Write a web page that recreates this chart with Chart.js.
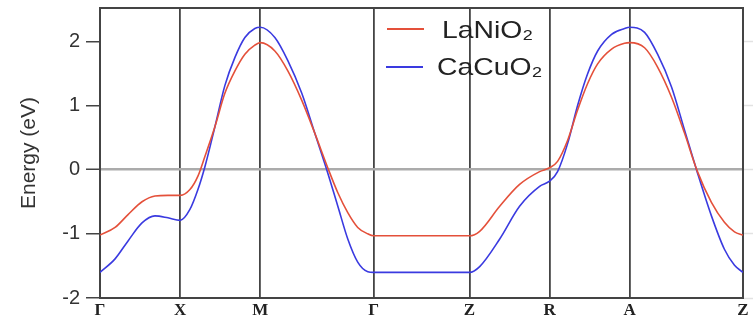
<!DOCTYPE html>
<html>
<head>
<meta charset="utf-8">
<script src="https://cdn.jsdelivr.net/npm/chart.js@4"></script>
<style>
html,body{margin:0;padding:0;background:#fff;}
#wrap{width:756px;height:322px;}
</style>
</head>
<body>
<div id="wrap"><canvas id="c" width="756" height="322"></canvas></div>
<script>
// High-symmetry path (k-distance) and labels
const kTicks = [0, 0.5, 1.0, 1.707, 2.305, 2.805, 3.305, 4.012];
const kLabels = ['Γ', 'X', 'M', 'Γ', 'Z', 'R', 'A', 'Z'];
const yTicks = [-2, -1, 0, 1, 2];

// Sampled k positions along the path
const kPos = [0, 0.094, 0.175, 0.262, 0.343, 0.424, 0.5, 0.561, 0.611, 0.655, 0.717, 0.779, 0.842, 0.904, 0.966, 1.0,
  1.091, 1.172, 1.259, 1.340, 1.421, 1.484, 1.546, 1.608, 1.671, 1.707, 2.0, 2.305, 2.369, 2.494, 2.618, 2.743, 2.805,
  2.855, 2.918, 2.980, 3.042, 3.105, 3.192, 3.273, 3.305, 3.398, 3.479, 3.566, 3.647, 3.728, 3.815, 3.896, 3.959, 4.012];

const laNiO2 = [-1.02, -0.90, -0.70, -0.50, -0.41, -0.40, -0.40, -0.31, -0.10, 0.21, 0.67, 1.19, 1.54, 1.80, 1.94, 1.98,
  1.85, 1.54, 1.08, 0.57, 0.03, -0.36, -0.67, -0.90, -1.00, -1.03, -1.03, -1.03, -0.96, -0.57, -0.23, -0.03, 0.03,
  0.13, 0.46, 0.93, 1.34, 1.65, 1.88, 1.97, 1.98, 1.90, 1.60, 1.13, 0.57, -0.03, -0.51, -0.82, -0.97, -1.02];

const caCuO2 = [-1.60, -1.39, -1.11, -0.83, -0.72, -0.75, -0.79, -0.62, -0.31, 0.05, 0.67, 1.31, 1.75, 2.06, 2.20, 2.22,
  2.06, 1.70, 1.19, 0.57, -0.05, -0.57, -1.08, -1.44, -1.59, -1.60, -1.60, -1.60, -1.51, -1.08, -0.57, -0.26, -0.18,
  -0.03, 0.41, 1.00, 1.49, 1.85, 2.11, 2.20, 2.22, 2.14, 1.80, 1.29, 0.62, -0.05, -0.72, -1.24, -1.49, -1.60];

const seriesNames = ['LaNiO₂', 'CaCuO₂'];

const toPts = arr => kPos.map((k, i) => ({x: k, y: arr[i]}));

const legendPlugin = {
  id: 'insideLegend',
  afterDraw(chart) {
    const ctx = chart.ctx;
    const rows = [{lx: 387, ly: 29, tx: 442, ty: 38}, {lx: 386, ly: 67, tx: 437, ty: 75}];
    ctx.save();
    chart.data.datasets.forEach((ds, i) => {
      const r = rows[i];
      ctx.strokeStyle = ds.borderColor;
      ctx.lineWidth = 2;
      ctx.beginPath();
      ctx.moveTo(r.lx, r.ly);
      ctx.lineTo(r.lx + 37, r.ly);
      ctx.stroke();
      ctx.save();
      ctx.translate(r.tx, r.ty);
      ctx.scale(1.18, 1);
      ctx.fillStyle = '#222';
      ctx.font = '24px "Liberation Sans", Arial, sans-serif';
      ctx.textBaseline = 'alphabetic';
      ctx.textAlign = 'left';
      ctx.fillText(ds.label, 0, 0);
      ctx.restore();
    });
    ctx.restore();
  }
};

const noPad = s => { s.paddingTop = 0; s.paddingBottom = 0; };

new Chart(document.getElementById('c'), {
  type: 'line',
  data: {
    datasets: [
      {label: seriesNames[0], data: toPts(laNiO2), borderColor: '#e4503a', borderWidth: 1.6,
       pointRadius: 0, cubicInterpolationMode: 'monotone', fill: false},
      {label: seriesNames[1], data: toPts(caCuO2), borderColor: '#3a3ae0', borderWidth: 1.6,
       pointRadius: 0, cubicInterpolationMode: 'monotone', fill: false}
    ]
  },
  options: {
    responsive: false,
    animation: false,
    layout: {padding: 0},
    plugins: {legend: {display: false}, tooltip: {enabled: false}},
    scales: {
      x: {
        type: 'linear', position: 'bottom',
        min: kTicks[0], max: kTicks[kTicks.length - 1],
        afterBuildTicks: s => { s.ticks = kTicks.map(v => ({value: v})); },
        afterFit: s => { s.height = 24; s.paddingLeft = 0; s.paddingRight = 0; },
        ticks: {
          autoSkip: false, maxRotation: 0, padding: 2, color: '#222',
          font: {family: '"Liberation Serif", "Times New Roman", serif', size: 17, weight: 'bold'},
          callback: (v, i) => kLabels[i]
        },
        grid: {color: '#444', lineWidth: 1.8, drawTicks: false},
        border: {display: true, color: '#444', width: 2}
      },
      x2: {
        type: 'linear', position: 'top', min: 0, max: 1,
        afterFit: s => { s.height = 8; s.paddingLeft = 0; s.paddingRight = 0; },
        ticks: {display: false},
        grid: {drawOnChartArea: false, drawTicks: false},
        border: {display: true, color: '#444', width: 2}
      },
      y: {
        type: 'linear', position: 'left', min: -2, max: 2.52,
        afterBuildTicks: s => { s.ticks = yTicks.map(v => ({value: v})); },
        afterFit: s => { s.width = 100; noPad(s); },
        ticks: {
          padding: 6, color: '#333',
          font: {family: '"Liberation Sans", Arial, sans-serif', size: 20}
        },
        grid: {
          drawOnChartArea: true,
          color: c => (c.tick && c.tick.value === 0) ? '#ababab' : 'rgba(0,0,0,0)',
          lineWidth: c => (c.tick && c.tick.value === 0) ? 2.5 : 1.5,
          tickColor: '#444', tickLength: 14, tickWidth: 1.5
        },
        border: {display: true, color: '#444', width: 2},
        title: {
          display: true, text: 'Energy (eV)', color: '#333',
          font: {family: '"Liberation Sans", Arial, sans-serif', size: 21},
          padding: {top: 17, bottom: 0}
        }
      },
      y2: {
        type: 'linear', position: 'right', min: -2, max: 2.52,
        afterBuildTicks: s => { s.ticks = yTicks.map(v => ({value: v})); },
        afterFit: s => { s.width = 13; noPad(s); },
        ticks: {display: false},
        grid: {drawOnChartArea: false, tickColor: '#e2e2e2', tickLength: 10, tickWidth: 1.5},
        border: {display: true, color: '#444', width: 2}
      }
    }
  },
  plugins: [legendPlugin]
});
</script>
</body>
</html>
